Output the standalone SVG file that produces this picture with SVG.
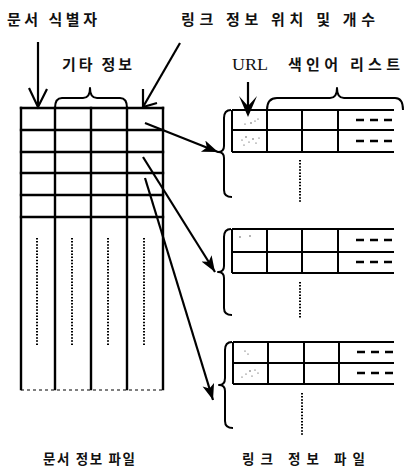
<svg xmlns="http://www.w3.org/2000/svg" width="406" height="475" viewBox="0 0 406 475">
<style>
  .bg{fill:#fff}
  .ko{font-family:"Noto Sans CJK KR","Noto Sans",sans-serif;font-weight:700;font-size:15px;fill:#111}
  .ko2{font-family:"Noto Sans CJK KR","Noto Sans",sans-serif;font-weight:700;font-size:13.5px;fill:#111}
  .en{font-family:"Liberation Serif",serif;font-size:17px;fill:#111}
  .grid{stroke:#000;stroke-width:2.4;fill:none;stroke-linecap:square}
  .grid2{stroke:#000;stroke-width:2;fill:none}
  .brace{stroke:#000;stroke-width:2;fill:none;stroke-linejoin:round}
  .dots{stroke:#000;stroke-width:2;stroke-dasharray:1.5 1.6;fill:none}
  .dash{stroke:#000;stroke-width:2.4;stroke-dasharray:8 6;fill:none}
  .conn{stroke:#000;stroke-width:2.2;fill:none}
  .speck{fill:#333}
</style>
<defs>
  <marker id="ah" markerUnits="userSpaceOnUse" markerWidth="18" markerHeight="14" refX="16" refY="6" orient="auto">
    <path d="M0,0 L16,6 L0,12 L4,6 Z" fill="#000"/>
  </marker>
</defs>
<rect class="bg" x="0" y="0" width="406" height="475"/>

<g id="label-doc-id">
  <text class="ko" x="7" y="25" textLength="90" lengthAdjust="spacing">문서 식별자</text>
</g>
<g id="label-link-pos">
  <text class="ko" x="181" y="25" textLength="194" lengthAdjust="spacing">링크 정보 위치 및 개수</text>
</g>
<g id="label-other">
  <text class="ko" x="62" y="70" textLength="70" lengthAdjust="spacing">기타 정보</text>
  <path class="brace" d="M55,108 Q55,98 62,98 L83,98 Q90,98 90,88 Q90,98 97,98 L120,98 Q127,98 127,108"/>
</g>
<g id="label-url">
  <text class="en" x="232" y="70" textLength="36" lengthAdjust="spacingAndGlyphs">URL</text>
</g>
<g id="label-index">
  <text class="ko" x="288" y="70" textLength="112" lengthAdjust="spacing">색인어 리스트</text>
  <path class="brace" d="M267,110 Q267,98 277,98 L330,98 Q337,98 337,88 Q337,98 344,98 L395,98 Q403,98 403,110"/>
</g>

<g id="doc-info-file">
  <line class="grid" x1="21" y1="108" x2="163" y2="108"/>
  <line class="grid" x1="21" y1="130" x2="163" y2="130"/>
  <line class="grid" x1="21" y1="152" x2="163" y2="152"/>
  <line class="grid" x1="21" y1="173" x2="163" y2="173"/>
  <line class="grid" x1="21" y1="195" x2="163" y2="195"/>
  <line class="grid" x1="21" y1="217" x2="163" y2="217"/>
  <line class="grid" x1="21" y1="108" x2="21" y2="389"/>
  <line class="grid" x1="55" y1="108" x2="55" y2="389"/>
  <line class="grid" x1="91" y1="108" x2="91" y2="389"/>
  <line class="grid" x1="127" y1="108" x2="127" y2="389"/>
  <line class="grid" x1="163" y1="108" x2="163" y2="389"/>
  <line stroke="#000" stroke-width="1.2" stroke-dasharray="3 3" x1="21" y1="390" x2="163" y2="390"/>
  <line class="dots" x1="37" y1="238" x2="37" y2="345"/>
  <line class="dots" x1="72" y1="238" x2="72" y2="345"/>
  <line class="dots" x1="108" y1="238" x2="108" y2="345"/>
  <line class="dots" x1="144" y1="238" x2="144" y2="345"/>
  <text class="ko2" x="43" y="464" textLength="92" lengthAdjust="spacing">문서 정보 파일</text>
</g>

<g id="link-table-1">
  <line class="grid2" x1="232" y1="110" x2="394" y2="110"/>
  <line class="grid2" x1="232" y1="130" x2="394" y2="130"/>
  <line class="grid2" x1="232" y1="152" x2="394" y2="152"/>
  <line class="grid2" x1="232" y1="110" x2="232" y2="152"/>
  <line class="grid2" x1="267" y1="110" x2="267" y2="152"/>
  <line class="grid2" x1="302" y1="110" x2="302" y2="152"/>
  <line class="grid2" x1="338" y1="110" x2="338" y2="152"/>
  <line class="dash" x1="356" y1="120" x2="392" y2="120"/>
  <line class="dash" x1="356" y1="141" x2="392" y2="141"/>
  <path class="brace" d="M231,110 Q224,110 224,118 L224,146 Q224,152 218,152 Q224,152 224,158 L224,190 Q224,197 232,197"/>
  <line class="dots" x1="300" y1="160" x2="300" y2="202"/>
  <g class="speck">
    <circle cx="245" cy="124" r="0.6"/><circle cx="251" cy="123" r="0.7"/><circle cx="255" cy="121" r="0.6"/><circle cx="258" cy="119" r="0.6"/>
    <circle cx="242" cy="140" r="0.6"/><circle cx="246" cy="137" r="0.7"/><circle cx="249" cy="142" r="0.6"/><circle cx="253" cy="139" r="0.7"/><circle cx="256" cy="143" r="0.6"/><circle cx="259" cy="138" r="0.6"/><circle cx="244" cy="145" r="0.6"/>
  </g>
</g>

<g id="link-table-2">
  <line class="grid2" x1="232" y1="229" x2="394" y2="229"/>
  <line class="grid2" x1="232" y1="252" x2="394" y2="252"/>
  <line class="grid2" x1="232" y1="273" x2="394" y2="273"/>
  <line class="grid2" x1="232" y1="229" x2="232" y2="273"/>
  <line class="grid2" x1="267" y1="229" x2="267" y2="273"/>
  <line class="grid2" x1="302" y1="229" x2="302" y2="273"/>
  <line class="grid2" x1="338" y1="229" x2="338" y2="273"/>
  <line class="dash" x1="356" y1="240" x2="392" y2="240"/>
  <line class="dash" x1="356" y1="262" x2="392" y2="262"/>
  <path class="brace" d="M231,229 Q224,229 224,237 L224,266 Q224,272 218,272 Q224,272 224,278 L224,308 Q224,315 232,315"/>
  <line class="dots" x1="300" y1="282" x2="300" y2="318"/>
  <g class="speck">
    <circle cx="240" cy="237" r="0.7"/><circle cx="250" cy="236" r="0.7"/>
  </g>
</g>

<g id="link-table-3">
  <line class="grid2" x1="233" y1="342" x2="394" y2="342"/>
  <line class="grid2" x1="233" y1="363" x2="394" y2="363"/>
  <line class="grid2" x1="233" y1="384" x2="394" y2="384"/>
  <line class="grid2" x1="233" y1="342" x2="233" y2="384"/>
  <line class="grid2" x1="268" y1="342" x2="268" y2="384"/>
  <line class="grid2" x1="304" y1="342" x2="304" y2="384"/>
  <line class="grid2" x1="339" y1="342" x2="339" y2="384"/>
  <line class="dash" x1="357" y1="352" x2="393" y2="352"/>
  <line class="dash" x1="357" y1="373" x2="393" y2="373"/>
  <path class="brace" d="M232,342 Q225,342 225,350 L225,378 Q225,385 219,385 Q225,385 225,391 L225,421 Q225,428 233,428"/>
  <line class="dots" x1="302" y1="393" x2="302" y2="435"/>
  <g class="speck">
    <circle cx="245" cy="351" r="0.6"/><circle cx="248" cy="354" r="0.6"/>
    <circle cx="242" cy="377" r="0.6"/><circle cx="246" cy="374" r="0.6"/><circle cx="250" cy="371" r="0.7"/><circle cx="255" cy="370" r="0.6"/><circle cx="258" cy="373" r="0.6"/><circle cx="252" cy="376" r="0.6"/>
  </g>
  <text class="ko2" x="242" y="464" textLength="123" lengthAdjust="spacing">링크 정보 파일</text>
</g>

<g id="connectors">
  <line class="conn" x1="38" y1="42" x2="38" y2="107"/>
  <path class="conn" d="M29,88 L38,107 L47,89"/>
  <line class="conn" x1="180" y1="43" x2="143" y2="107"/>
  <path class="conn" d="M143,89 L143,107 L157,103"/>
  <line class="conn" x1="248" y1="82" x2="248" y2="112"/>
  <path d="M239,96 L248,117 L257,96 L248,106 Z" fill="#000"/>
  <line class="conn" x1="145" y1="123" x2="218" y2="152" marker-end="url(#ah)"/>
  <line class="conn" x1="143" y1="157" x2="215" y2="272" marker-end="url(#ah)"/>
  <line class="conn" x1="145" y1="178" x2="213" y2="400" marker-end="url(#ah)"/>
</g>
</svg>
